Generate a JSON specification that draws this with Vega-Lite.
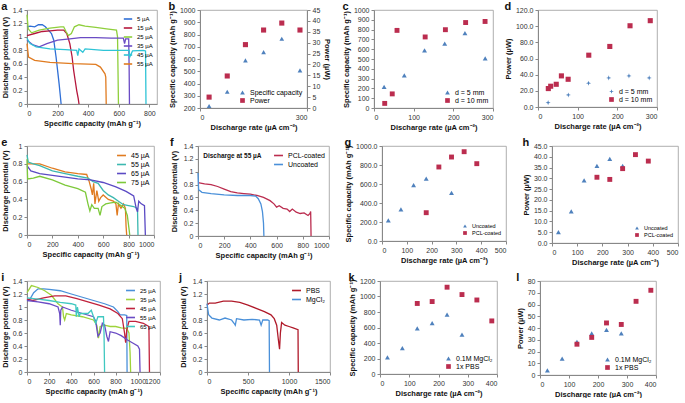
{
"$schema":"https://vega.github.io/schema/vega-lite/v6.json",
"padding":{"left":0,"top":0,"right":2,"bottom":0},
"background":"white",
"config":{
 "font":"Liberation Sans",
 "view":{"stroke":"#9a9a9a","strokeWidth":0.8},
 "axis":{"grid":false,"labelOverlap":false,"labelFont":"Liberation Sans","titleFont":"Liberation Sans","labelFontSize":7,"titleFontSize":7.5,"titleFontWeight":"bold","labelColor":"#333","titleColor":"#111","domainColor":"#888","tickColor":"#888","tickSize":3,"titlePadding":3,"labelPadding":2},
 "legend":{"labelFont":"Liberation Sans","labelFontSize":6.5,"symbolSize":22,"rowPadding":0,"padding":1,"offset":3,"labelLimit":200,"symbolStrokeWidth":1.6},
 "title":{"font":"Liberation Sans","fontSize":11,"fontWeight":"bold","anchor":"start","frame":"bounds","offset":-6,"color":"#111"}
},
"datasets":{
"a":[
{"s":"5 µA","x":0,"y":1.15},{"s":"5 µA","x":20,"y":1.16},{"s":"5 µA","x":50,"y":1.15},{"s":"5 µA","x":75,"y":1.18},{"s":"5 µA","x":100,"y":1.18},{"s":"5 µA","x":120,"y":1.15},{"s":"5 µA","x":140,"y":1.1},{"s":"5 µA","x":160,"y":1.05},{"s":"5 µA","x":175,"y":0.95},{"s":"5 µA","x":190,"y":0.7},{"s":"5 µA","x":200,"y":0.5},{"s":"5 µA","x":210,"y":0.3},{"s":"5 µA","x":218,"y":0.12},{"s":"5 µA","x":223,"y":0},
{"s":"15 µA","x":0,"y":1.02},{"s":"15 µA","x":50,"y":1.05},{"s":"15 µA","x":100,"y":1.08},{"s":"15 µA","x":150,"y":1.09},{"s":"15 µA","x":200,"y":1.1},{"s":"15 µA","x":240,"y":1.1},{"s":"15 µA","x":260,"y":1.05},{"s":"15 µA","x":280,"y":0.9},{"s":"15 µA","x":295,"y":0.7},{"s":"15 µA","x":305,"y":0.5},{"s":"15 µA","x":315,"y":0.35},{"s":"15 µA","x":325,"y":0.2},{"s":"15 µA","x":335,"y":0.08},{"s":"15 µA","x":340,"y":0},
{"s":"25 µA","x":0,"y":1.33},{"s":"25 µA","x":8,"y":1.12},{"s":"25 µA","x":30,"y":1.06},{"s":"25 µA","x":80,"y":1.1},{"s":"25 µA","x":150,"y":1.13},{"s":"25 µA","x":220,"y":1.15},{"s":"25 µA","x":240,"y":1.15},{"s":"25 µA","x":255,"y":1.08},{"s":"25 µA","x":270,"y":1.02},{"s":"25 µA","x":290,"y":1.05},{"s":"25 µA","x":310,"y":1.15},{"s":"25 µA","x":340,"y":1.18},{"s":"25 µA","x":380,"y":1.16},{"s":"25 µA","x":450,"y":1.14},{"s":"25 µA","x":520,"y":1.12},{"s":"25 µA","x":585,"y":1.1},{"s":"25 µA","x":592,"y":1.0},{"s":"25 µA","x":595,"y":0.5},{"s":"25 µA","x":598,"y":0},
{"s":"35 µA","x":0,"y":0.95},{"s":"35 µA","x":40,"y":0.88},{"s":"35 µA","x":80,"y":0.85},{"s":"35 µA","x":130,"y":0.9},{"s":"35 µA","x":200,"y":0.95},{"s":"35 µA","x":280,"y":0.97},{"s":"35 µA","x":350,"y":0.99},{"s":"35 µA","x":450,"y":0.99},{"s":"35 µA","x":550,"y":0.98},{"s":"35 µA","x":630,"y":0.98},{"s":"35 µA","x":638,"y":0.9},{"s":"35 µA","x":645,"y":0.97},{"s":"35 µA","x":665,"y":0.97},{"s":"35 µA","x":668,"y":0.5},{"s":"35 µA","x":670,"y":0},
{"s":"45 µA","x":0,"y":0.98},{"s":"45 µA","x":20,"y":0.9},{"s":"45 µA","x":60,"y":0.85},{"s":"45 µA","x":150,"y":0.82},{"s":"45 µA","x":250,"y":0.81},{"s":"45 µA","x":325,"y":0.8},{"s":"45 µA","x":332,"y":0.72},{"s":"45 µA","x":340,"y":0.82},{"s":"45 µA","x":365,"y":0.77},{"s":"45 µA","x":380,"y":0.82},{"s":"45 µA","x":500,"y":0.8},{"s":"45 µA","x":650,"y":0.8},{"s":"45 µA","x":668,"y":0.8},{"s":"45 µA","x":672,"y":0.7},{"s":"45 µA","x":690,"y":0.79},{"s":"45 µA","x":760,"y":0.8},{"s":"45 µA","x":775,"y":0.79},{"s":"45 µA","x":778,"y":0},
{"s":"55 µA","x":0,"y":0.9},{"s":"55 µA","x":10,"y":0.7},{"s":"55 µA","x":50,"y":0.65},{"s":"55 µA","x":150,"y":0.62},{"s":"55 µA","x":300,"y":0.6},{"s":"55 µA","x":450,"y":0.59},{"s":"55 µA","x":480,"y":0.55},{"s":"55 µA","x":510,"y":0.45},{"s":"55 µA","x":515,"y":0.4},{"s":"55 µA","x":518,"y":0}
],
"bcap":[{"s":"Specific capacity","x":25.5,"y":216},{"s":"Specific capacity","x":76.4,"y":333},{"s":"Specific capacity","x":127.4,"y":589},{"s":"Specific capacity","x":178.3,"y":656},{"s":"Specific capacity","x":229.3,"y":765},{"s":"Specific capacity","x":280.3,"y":507}],
"bpow":[{"s":"Power","x":25.5,"y":5},{"s":"Power","x":76.4,"y":14.7},{"s":"Power","x":127.4,"y":29.1},{"s":"Power","x":178.3,"y":35.8},{"s":"Power","x":229.3,"y":39},{"s":"Power","x":280.3,"y":35.8}],
"c":[{"s":"d = 5 mm","x":25.5,"y":216},{"s":"d = 5 mm","x":76.4,"y":333},{"s":"d = 5 mm","x":127.4,"y":589},{"s":"d = 5 mm","x":178.3,"y":656},{"s":"d = 5 mm","x":229.3,"y":765},{"s":"d = 5 mm","x":280.3,"y":507},
{"s":"d = 10 mm","x":27,"y":47},{"s":"d = 10 mm","x":46,"y":144},{"s":"d = 10 mm","x":58,"y":792},{"s":"d = 10 mm","x":129,"y":725},{"s":"d = 10 mm","x":180,"y":799},{"s":"d = 10 mm","x":231,"y":872},{"s":"d = 10 mm","x":280,"y":883}],
"d":[{"s":"d = 5 mm","x":25.5,"y":5.4},{"s":"d = 5 mm","x":76.4,"y":14.9},{"s":"d = 5 mm","x":127.4,"y":29.4},{"s":"d = 5 mm","x":178.3,"y":36},{"s":"d = 5 mm","x":229.3,"y":38.5},{"s":"d = 5 mm","x":280.3,"y":36},
{"s":"d = 10 mm","x":26,"y":22.8},{"s":"d = 10 mm","x":32,"y":25.7},{"s":"d = 10 mm","x":46,"y":28.1},{"s":"d = 10 mm","x":59,"y":38.5},{"s":"d = 10 mm","x":76,"y":34.3},{"s":"d = 10 mm","x":128,"y":64.1},{"s":"d = 10 mm","x":181,"y":74.9},{"s":"d = 10 mm","x":232,"y":100.5},{"s":"d = 10 mm","x":283,"y":106.8}],
"e":[
{"s":"45 µA","x":0,"y":0.8},{"s":"45 µA","x":50,"y":0.8},{"s":"45 µA","x":100,"y":0.8},{"s":"45 µA","x":200,"y":0.75},{"s":"45 µA","x":300,"y":0.71},{"s":"45 µA","x":400,"y":0.69},{"s":"45 µA","x":470,"y":0.68},{"s":"45 µA","x":490,"y":0.6},{"s":"45 µA","x":505,"y":0.52},{"s":"45 µA","x":515,"y":0.45},{"s":"45 µA","x":525,"y":0.58},{"s":"45 µA","x":535,"y":0.35},{"s":"45 µA","x":550,"y":0.5},{"s":"45 µA","x":565,"y":0.38},{"s":"45 µA","x":580,"y":0.42},{"s":"45 µA","x":600,"y":0.45},{"s":"45 µA","x":640,"y":0.4},{"s":"45 µA","x":680,"y":0.38},{"s":"45 µA","x":700,"y":0.35},{"s":"45 µA","x":710,"y":0.22},{"s":"45 µA","x":720,"y":0.35},{"s":"45 µA","x":740,"y":0.3},{"s":"45 µA","x":760,"y":0.35},{"s":"45 µA","x":775,"y":0.3},{"s":"45 µA","x":780,"y":0.1},{"s":"45 µA","x":785,"y":0},
{"s":"55 µA","x":0,"y":0.9},{"s":"55 µA","x":10,"y":0.82},{"s":"55 µA","x":50,"y":0.8},{"s":"55 µA","x":100,"y":0.78},{"s":"55 µA","x":200,"y":0.72},{"s":"55 µA","x":300,"y":0.69},{"s":"55 µA","x":400,"y":0.66},{"s":"55 µA","x":480,"y":0.64},{"s":"55 µA","x":520,"y":0.6},{"s":"55 µA","x":560,"y":0.58},{"s":"55 µA","x":600,"y":0.5},{"s":"55 µA","x":640,"y":0.45},{"s":"55 µA","x":680,"y":0.42},{"s":"55 µA","x":720,"y":0.38},{"s":"55 µA","x":760,"y":0.34},{"s":"55 µA","x":800,"y":0.33},{"s":"55 µA","x":840,"y":0.32},{"s":"55 µA","x":870,"y":0.3},{"s":"55 µA","x":874,"y":0},
{"s":"65 µA","x":0,"y":0.78},{"s":"65 µA","x":30,"y":0.72},{"s":"65 µA","x":100,"y":0.69},{"s":"65 µA","x":200,"y":0.67},{"s":"65 µA","x":300,"y":0.65},{"s":"65 µA","x":400,"y":0.63},{"s":"65 µA","x":500,"y":0.62},{"s":"65 µA","x":600,"y":0.59},{"s":"65 µA","x":700,"y":0.54},{"s":"65 µA","x":780,"y":0.49},{"s":"65 µA","x":840,"y":0.44},{"s":"65 µA","x":860,"y":0.3},{"s":"65 µA","x":870,"y":0.26},{"s":"65 µA","x":880,"y":0.38},{"s":"65 µA","x":900,"y":0.35},{"s":"65 µA","x":925,"y":0.33},{"s":"65 µA","x":932,"y":0},
{"s":"75 µA","x":0,"y":0.85},{"s":"75 µA","x":5,"y":0.63},{"s":"75 µA","x":50,"y":0.64},{"s":"75 µA","x":100,"y":0.66},{"s":"75 µA","x":200,"y":0.62},{"s":"75 µA","x":300,"y":0.56},{"s":"75 µA","x":400,"y":0.52},{"s":"75 µA","x":460,"y":0.48},{"s":"75 µA","x":480,"y":0.35},{"s":"75 µA","x":495,"y":0.27},{"s":"75 µA","x":510,"y":0.34},{"s":"75 µA","x":530,"y":0.3},{"s":"75 µA","x":560,"y":0.3},{"s":"75 µA","x":575,"y":0.22},{"s":"75 µA","x":590,"y":0.32},{"s":"75 µA","x":620,"y":0.35},{"s":"75 µA","x":660,"y":0.36},{"s":"75 µA","x":700,"y":0.37},{"s":"75 µA","x":740,"y":0.33},{"s":"75 µA","x":770,"y":0.3},{"s":"75 µA","x":790,"y":0.22},{"s":"75 µA","x":805,"y":0.05},{"s":"75 µA","x":809,"y":0}
],
"f":[
{"s":"PCL-coated","fx":0,"fy":0.83},{"s":"PCL-coated","fx":50,"fy":0.81},{"s":"PCL-coated","fx":100,"fy":0.8},{"s":"PCL-coated","fx":150,"fy":0.77},{"s":"PCL-coated","fx":200,"fy":0.73},{"s":"PCL-coated","fx":250,"fy":0.69},{"s":"PCL-coated","fx":300,"fy":0.67},{"s":"PCL-coated","fx":350,"fy":0.66},{"s":"PCL-coated","fx":400,"fy":0.65},{"s":"PCL-coated","fx":450,"fy":0.63},{"s":"PCL-coated","fx":500,"fy":0.6},{"s":"PCL-coated","fx":550,"fy":0.55},{"s":"PCL-coated","fx":580,"fy":0.5},{"s":"PCL-coated","fx":600,"fy":0.45},{"s":"PCL-coated","fx":620,"fy":0.47},{"s":"PCL-coated","fx":650,"fy":0.43},{"s":"PCL-coated","fx":680,"fy":0.42},{"s":"PCL-coated","fx":700,"fy":0.38},{"s":"PCL-coated","fx":720,"fy":0.42},{"s":"PCL-coated","fx":750,"fy":0.37},{"s":"PCL-coated","fx":780,"fy":0.35},{"s":"PCL-coated","fx":810,"fy":0.36},{"s":"PCL-coated","fx":840,"fy":0.32},{"s":"PCL-coated","fx":855,"fy":0.35},{"s":"PCL-coated","fx":860,"fy":0.38},{"s":"PCL-coated","fx":863,"fy":0},
{"s":"Uncoated","fx":0,"fy":0.98},{"s":"Uncoated","fx":5,"fy":0.72},{"s":"Uncoated","fx":30,"fy":0.68},{"s":"Uncoated","fx":100,"fy":0.66},{"s":"Uncoated","fx":200,"fy":0.64},{"s":"Uncoated","fx":300,"fy":0.63},{"s":"Uncoated","fx":400,"fy":0.63},{"s":"Uncoated","fx":440,"fy":0.62},{"s":"Uncoated","fx":460,"fy":0.58},{"s":"Uncoated","fx":480,"fy":0.5},{"s":"Uncoated","fx":492,"fy":0.38},{"s":"Uncoated","fx":500,"fy":0.2},{"s":"Uncoated","fx":503,"fy":0}
],
"fnote":[{"fx":40,"fy":1.24,"t":"Discharge at 55 µA"}],
"g":[{"s":"Uncoated","x":25.5,"y":216},{"s":"Uncoated","x":76.4,"y":333},{"s":"Uncoated","x":127.4,"y":589},{"s":"Uncoated","x":178.3,"y":656},{"s":"Uncoated","x":280.3,"y":507},
{"s":"PCL-coated","x":178.3,"y":298},{"s":"PCL-coated","x":229.3,"y":779},{"s":"PCL-coated","x":280.3,"y":884},{"s":"PCL-coated","x":331.2,"y":940},{"s":"PCL-coated","x":382.2,"y":814}],
"h":[{"s":"Uncoated","x":25.5,"y":5},{"s":"Uncoated","x":76.4,"y":14.7},{"s":"Uncoated","x":127.4,"y":29.1},{"s":"Uncoated","x":178.3,"y":35.8},{"s":"Uncoated","x":229.3,"y":39},{"s":"Uncoated","x":280.3,"y":35.8},
{"s":"PCL-coated","x":178.3,"y":30.5},{"s":"PCL-coated","x":229.3,"y":29.5},{"s":"PCL-coated","x":280.3,"y":34.5},{"s":"PCL-coated","x":331.2,"y":41},{"s":"PCL-coated","x":382.2,"y":38}],
"i":[
{"s":"25 µA","x":0,"y":1.1},{"s":"25 µA","x":30,"y":1.13},{"s":"25 µA","x":60,"y":1.22},{"s":"25 µA","x":100,"y":1.28},{"s":"25 µA","x":150,"y":1.28},{"s":"25 µA","x":200,"y":1.27},{"s":"25 µA","x":300,"y":1.25},{"s":"25 µA","x":400,"y":1.2},{"s":"25 µA","x":500,"y":1.15},{"s":"25 µA","x":600,"y":1.1},{"s":"25 µA","x":700,"y":1.05},{"s":"25 µA","x":780,"y":1.0},{"s":"25 µA","x":820,"y":0.93},{"s":"25 µA","x":840,"y":0.88},{"s":"25 µA","x":880,"y":0.88},{"s":"25 µA","x":900,"y":0.87},{"s":"25 µA","x":903,"y":0},
{"s":"35 µA","x":0,"y":1.22},{"s":"35 µA","x":40,"y":1.33},{"s":"35 µA","x":100,"y":1.3},{"s":"35 µA","x":160,"y":1.25},{"s":"35 µA","x":220,"y":1.18},{"s":"35 µA","x":280,"y":1.05},{"s":"35 µA","x":320,"y":1.0},{"s":"35 µA","x":330,"y":0.85},{"s":"35 µA","x":340,"y":0.8},{"s":"35 µA","x":355,"y":0.9},{"s":"35 µA","x":400,"y":0.88},{"s":"35 µA","x":500,"y":0.85},{"s":"35 µA","x":600,"y":0.8},{"s":"35 µA","x":630,"y":0.72},{"s":"35 µA","x":645,"y":0.52},{"s":"35 µA","x":660,"y":0.7},{"s":"35 µA","x":700,"y":0.72},{"s":"35 µA","x":750,"y":0.7},{"s":"35 µA","x":800,"y":0.7},{"s":"35 µA","x":850,"y":0.68},{"s":"35 µA","x":900,"y":0.67},{"s":"35 µA","x":920,"y":0.6},{"s":"35 µA","x":930,"y":0.3},{"s":"35 µA","x":935,"y":0},
{"s":"45 µA","x":0,"y":1.12},{"s":"45 µA","x":50,"y":1.1},{"s":"45 µA","x":150,"y":1.14},{"s":"45 µA","x":250,"y":1.17},{"s":"45 µA","x":350,"y":1.17},{"s":"45 µA","x":450,"y":1.13},{"s":"45 µA","x":550,"y":1.08},{"s":"45 µA","x":650,"y":1.03},{"s":"45 µA","x":750,"y":0.97},{"s":"45 µA","x":820,"y":0.9},{"s":"45 µA","x":860,"y":0.82},{"s":"45 µA","x":880,"y":0.6},{"s":"45 µA","x":890,"y":0.45},{"s":"45 µA","x":900,"y":0.65},{"s":"45 µA","x":920,"y":0.78},{"s":"45 µA","x":980,"y":0.78},{"s":"45 µA","x":1050,"y":0.75},{"s":"45 µA","x":1100,"y":0.7},{"s":"45 µA","x":1105,"y":0},
{"s":"55 µA","x":0,"y":1.1},{"s":"55 µA","x":100,"y":1.08},{"s":"55 µA","x":200,"y":1.05},{"s":"55 µA","x":280,"y":1.0},{"s":"55 µA","x":295,"y":0.9},{"s":"55 µA","x":300,"y":0.72},{"s":"55 µA","x":305,"y":0.95},{"s":"55 µA","x":320,"y":1.0},{"s":"55 µA","x":400,"y":0.95},{"s":"55 µA","x":500,"y":0.9},{"s":"55 µA","x":600,"y":0.85},{"s":"55 µA","x":620,"y":0.78},{"s":"55 µA","x":640,"y":0.55},{"s":"55 µA","x":660,"y":0.6},{"s":"55 µA","x":680,"y":0.75},{"s":"55 µA","x":700,"y":0.72},{"s":"55 µA","x":720,"y":0.55},{"s":"55 µA","x":735,"y":0.47},{"s":"55 µA","x":750,"y":0.62},{"s":"55 µA","x":800,"y":0.6},{"s":"55 µA","x":850,"y":0.56},{"s":"55 µA","x":900,"y":0.5},{"s":"55 µA","x":950,"y":0.45},{"s":"55 µA","x":1000,"y":0.4},{"s":"55 µA","x":1015,"y":0.35},{"s":"55 µA","x":1020,"y":0},
{"s":"65 µA","x":0,"y":1.14},{"s":"65 µA","x":100,"y":1.12},{"s":"65 µA","x":200,"y":1.1},{"s":"65 µA","x":300,"y":1.07},{"s":"65 µA","x":400,"y":1.05},{"s":"65 µA","x":440,"y":1.03},{"s":"65 µA","x":445,"y":0.85},{"s":"65 µA","x":455,"y":1.0},{"s":"65 µA","x":470,"y":0.85},{"s":"65 µA","x":480,"y":0.9},{"s":"65 µA","x":550,"y":0.9},{"s":"65 µA","x":580,"y":0.95},{"s":"65 µA","x":600,"y":0.85},{"s":"65 µA","x":620,"y":0.75},{"s":"65 µA","x":640,"y":0.85},{"s":"65 µA","x":690,"y":0.85},{"s":"65 µA","x":695,"y":0.6},{"s":"65 µA","x":700,"y":0}
],
"j":[
{"s":"PBS","jx":0,"jy":1.03},{"s":"PBS","jx":30,"jy":1.06},{"s":"PBS","jx":100,"jy":1.06},{"s":"PBS","jx":200,"jy":1.09},{"s":"PBS","jx":300,"jy":1.09},{"s":"PBS","jx":400,"jy":1.07},{"s":"PBS","jx":500,"jy":1.03},{"s":"PBS","jx":600,"jy":0.98},{"s":"PBS","jx":700,"jy":0.93},{"s":"PBS","jx":780,"jy":0.88},{"s":"PBS","jx":820,"jy":0.82},{"s":"PBS","jx":850,"jy":0.72},{"s":"PBS","jx":870,"jy":0.5},{"s":"PBS","jx":885,"jy":0.35},{"s":"PBS","jx":895,"jy":0.6},{"s":"PBS","jx":910,"jy":0.76},{"s":"PBS","jx":950,"jy":0.72},{"s":"PBS","jx":1000,"jy":0.7},{"s":"PBS","jx":1050,"jy":0.68},{"s":"PBS","jx":1110,"jy":0.65},{"s":"PBS","jx":1113,"jy":0},
{"s":"MgCl₂","jx":0,"jy":1.05},{"s":"MgCl₂","jx":20,"jy":0.88},{"s":"MgCl₂","jx":60,"jy":0.83},{"s":"MgCl₂","jx":150,"jy":0.8},{"s":"MgCl₂","jx":220,"jy":0.83},{"s":"MgCl₂","jx":300,"jy":0.8},{"s":"MgCl₂","jx":330,"jy":0.75},{"s":"MgCl₂","jx":345,"jy":0.72},{"s":"MgCl₂","jx":360,"jy":0.82},{"s":"MgCl₂","jx":450,"jy":0.8},{"s":"MgCl₂","jx":550,"jy":0.81},{"s":"MgCl₂","jx":640,"jy":0.8},{"s":"MgCl₂","jx":660,"jy":0.72},{"s":"MgCl₂","jx":680,"jy":0.8},{"s":"MgCl₂","jx":740,"jy":0.8},{"s":"MgCl₂","jx":758,"jy":0.79},{"s":"MgCl₂","jx":762,"jy":0}
],
"k":[{"s":"0.1M MgCl₂","x":25.5,"y":216},{"s":"0.1M MgCl₂","x":76.4,"y":333},{"s":"0.1M MgCl₂","x":127.4,"y":589},{"s":"0.1M MgCl₂","x":178.3,"y":656},{"s":"0.1M MgCl₂","x":229.3,"y":765},{"s":"0.1M MgCl₂","x":280.3,"y":507},
{"s":"1x PBS","x":127.4,"y":910},{"s":"1x PBS","x":178.3,"y":935},{"s":"1x PBS","x":229.3,"y":1120},{"s":"1x PBS","x":280.3,"y":1025},{"s":"1x PBS","x":331.2,"y":955},{"s":"1x PBS","x":382.2,"y":685}],
"l":[{"s":"0.1M MgCl₂","x":25.5,"y":4},{"s":"0.1M MgCl₂","x":76.4,"y":14},{"s":"0.1M MgCl₂","x":127.4,"y":28.3},{"s":"0.1M MgCl₂","x":178.3,"y":35.4},{"s":"0.1M MgCl₂","x":229.3,"y":38.5},{"s":"0.1M MgCl₂","x":280.3,"y":35.4},
{"s":"1x PBS","x":127.4,"y":26.2},{"s":"1x PBS","x":178.3,"y":32},{"s":"1x PBS","x":229.3,"y":44.3},{"s":"1x PBS","x":280.3,"y":43},{"s":"1x PBS","x":331.2,"y":62.7},{"s":"1x PBS","x":382.2,"y":72.1}]
},
"vconcat":[
{"hconcat":[
 {"width":130,"height":94,"title":{"text":"a","frame":"bounds","anchor":"start","offset":-6},"data":{"name":"a"},"mark":{"type":"line","strokeWidth":1.3},
  "encoding":{
   "x":{"field":"x","type":"quantitative","scale":{"domain":[0,850],"nice":false},"axis":{"values":[0,200,400,600,800],"title":"Specific capacity (mAh g⁻¹)"}},
   "y":{"field":"y","type":"quantitative","scale":{"domain":[0,1.4],"nice":false},"axis":{"values":[0,0.2,0.4,0.6,0.8,1,1.2,1.4],"format":"~g","title":"Discharge potential (V)"}},
   "color":{"field":"s","type":"nominal","scale":{"domain":["5 µA","15 µA","25 µA","35 µA","45 µA","55 µA"],"range":["#2f6fd6","#b5173c","#8fcf3c","#6a4bc4","#2ec4d6","#e07b20"]},"legend":{"title":null,"orient":"top-right","symbolType":"stroke","symbolSize":70,"labelFontSize":6}}}},
 {"width":107,"height":98,"title":{"text":"b","frame":"bounds","anchor":"start","offset":-6},
  "layer":[
   {"data":{"name":"bcap"},"mark":{"type":"point","filled":true,"size":22,"opacity":1},
    "encoding":{
     "x":{"field":"x","type":"quantitative","scale":{"domain":[0,300],"nice":false},"axis":{"values":[0,100,200,300],"title":"Discharge rate (µA cm⁻²)"}},
     "y":{"field":"y","type":"quantitative","scale":{"domain":[200,1000],"nice":false,"zero":false},"axis":{"values":[200,300,400,500,600,700,800,900,1000],"format":"d","title":"Specific capacity (mAh g⁻¹)"}},
     "color":{"field":"s","type":"nominal","scale":{"domain":["Specific capacity","Power"],"range":["#4f81bd","#bb2d4f"]},"legend":{"title":null,"orient":"bottom-right","labelFontSize":7}},
     "shape":{"field":"s","type":"nominal","scale":{"domain":["Specific capacity","Power"],"range":["triangle-up","square"]},"legend":{"title":null,"orient":"bottom-right","labelFontSize":7}}}},
   {"data":{"name":"bpow"},"mark":{"type":"point","filled":true,"size":26,"opacity":1},
    "encoding":{
     "x":{"field":"x","type":"quantitative","scale":{"domain":[0,300],"nice":false}},
     "y":{"field":"y","type":"quantitative","scale":{"domain":[0,45],"nice":false},"axis":{"orient":"right","values":[0,5,10,15,20,25,30,35,40,45],"title":"Power (µW)"}},
     "color":{"field":"s","type":"nominal","scale":{"domain":["Specific capacity","Power"],"range":["#4f81bd","#bb2d4f"]},"legend":{"title":null,"orient":"bottom-right","labelFontSize":7}},
     "shape":{"field":"s","type":"nominal","scale":{"domain":["Specific capacity","Power"],"range":["triangle-up","square"]},"legend":{"title":null,"orient":"bottom-right","labelFontSize":7}}}}
  ],
  "resolve":{"scale":{"y":"independent"}}},
 {"width":119,"height":98,"title":{"text":"c","frame":"bounds","anchor":"start","offset":-6},"data":{"name":"c"},"mark":{"type":"point","filled":true,"size":24,"opacity":1},
  "encoding":{
   "x":{"field":"x","type":"quantitative","scale":{"domain":[0,300],"nice":false},"axis":{"values":[0,100,200,300],"title":"Discharge rate (µA cm⁻²)"}},
   "y":{"field":"y","type":"quantitative","scale":{"domain":[0,1000],"nice":false},"axis":{"values":[0,100,200,300,400,500,600,700,800,900,1000],"format":"d","title":"Specific capacity (mAh g⁻¹)"}},
   "color":{"field":"s","type":"nominal","scale":{"domain":["d = 5 mm","d = 10 mm"],"range":["#4f81bd","#bb2d4f"]},"legend":{"title":null,"orient":"bottom-right","labelFontSize":7}},
   "shape":{"field":"s","type":"nominal","scale":{"domain":["d = 5 mm","d = 10 mm"],"range":["triangle-up","square"]},"legend":{"title":null,"orient":"bottom-right","labelFontSize":7}}}},
 {"width":119,"height":97,"title":{"text":"d","frame":"bounds","anchor":"start","offset":-6},"data":{"name":"d"},"mark":{"type":"point","filled":true,"size":26,"opacity":1},
  "encoding":{
   "x":{"field":"x","type":"quantitative","scale":{"domain":[0,300],"nice":false},"axis":{"values":[0,100,200,300],"title":"Discharge rate (µA cm⁻²)"}},
   "y":{"field":"y","type":"quantitative","scale":{"domain":[0,120],"nice":false},"axis":{"values":[0,20,40,60,80,100,120],"format":".1f","title":"Power (µW)"}},
   "color":{"field":"s","type":"nominal","scale":{"domain":["d = 5 mm","d = 10 mm"],"range":["#4f81bd","#bb2d4f"]},"legend":{"title":null,"orient":"bottom-right","labelFontSize":7}},
   "shape":{"field":"s","type":"nominal","scale":{"domain":["d = 5 mm","d = 10 mm"],"range":["M0,-1L0.25,-0.25L1,0L0.25,0.25L0,1L-0.25,0.25L-1,0L-0.25,-0.25Z","square"]},"legend":{"title":null,"orient":"bottom-right","labelFontSize":7}}}}
],"spacing":10,"resolve":{"scale":{"x":"independent","y":"independent","color":"independent","shape":"independent"},"axis":{"x":"independent","y":"independent"},"legend":{"color":"independent","shape":"independent"}}},
{"hconcat":[
 {"width":127,"height":89,"title":{"text":"e","frame":"bounds","anchor":"start","offset":-6},"data":{"name":"e"},"mark":{"type":"line","strokeWidth":1.3},
  "encoding":{
   "x":{"field":"x","type":"quantitative","scale":{"domain":[0,1000],"nice":false},"axis":{"values":[0,200,400,600,800,1000],"format":"d","title":"Specific capacity (mAh g⁻¹)"}},
   "y":{"field":"y","type":"quantitative","scale":{"domain":[0,1],"nice":false},"axis":{"values":[0,0.2,0.4,0.6,0.8,1],"format":"~g","title":"Discharge potential (V)"}},
   "color":{"field":"s","type":"nominal","scale":{"domain":["45 µA","55 µA","65 µA","75 µA"],"range":["#e07b20","#3cb8b0","#5b4ac4","#7dc93a"]},"legend":{"title":null,"orient":"top-right","symbolType":"stroke","symbolSize":80,"labelFontSize":7}}}},
 {"width":131,"height":90,"title":{"text":"f","frame":"bounds","anchor":"start","offset":-6},
  "layer":[
   {"data":{"name":"f"},"mark":{"type":"line","strokeWidth":1.3},
    "encoding":{
     "x":{"field":"fx","type":"quantitative","scale":{"domain":[0,1000],"nice":false},"axis":{"values":[0,200,400,600,800,1000],"format":"d","title":"Specific capacity (mAh g⁻¹)"}},
     "y":{"field":"fy","type":"quantitative","scale":{"domain":[0,1.4],"nice":false},"axis":{"values":[0,0.2,0.4,0.6,0.8,1,1.2,1.4],"format":"~g","title":"Discharge potential (V)","titleX":-20}},
     "color":{"field":"s","type":"nominal","scale":{"domain":["PCL-coated","Uncoated"],"range":["#bb2d4f","#4a90d9"]},"legend":{"title":null,"orient":"top-right","symbolType":"stroke","symbolSize":80,"labelFontSize":7}}}},
   {"data":{"name":"fnote"},"mark":{"type":"text","fontWeight":"bold","fontSize":6.5,"align":"left","baseline":"middle","font":"Liberation Sans","color":"#111"},
    "encoding":{
     "x":{"field":"fx","type":"quantitative","scale":{"domain":[0,1000],"nice":false},"axis":{"values":[0,200,400,600,800,1000],"format":"d","title":"Specific capacity (mAh g⁻¹)"}},
     "y":{"field":"fy","type":"quantitative","scale":{"domain":[0,1.4],"nice":false},"axis":{"values":[0,0.2,0.4,0.6,0.8,1,1.2,1.4],"format":"~g","title":"Discharge potential (V)","titleX":-20}},
     "text":{"field":"t","type":"nominal"}}}
  ]},
 {"width":124,"height":95,"title":{"text":"g","frame":"bounds","anchor":"start","offset":-6},"data":{"name":"g"},"mark":{"type":"point","filled":true,"size":24,"opacity":1},
  "encoding":{
   "x":{"field":"x","type":"quantitative","scale":{"domain":[0,500],"nice":false},"axis":{"values":[0,100,200,300,400,500],"title":"Discharge rate (µA cm⁻²)"}},
   "y":{"field":"y","type":"quantitative","scale":{"domain":[0,1000],"nice":false},"axis":{"values":[0,200,400,600,800,1000],"format":".1f","title":"Specific capacity (mAh g⁻¹)"}},
   "color":{"field":"s","type":"nominal","scale":{"domain":["Uncoated","PCL-coated"],"range":["#4f81bd","#bb2d4f"]},"legend":{"title":null,"orient":"bottom-right","labelFontSize":5.5,"symbolSize":14}},
   "shape":{"field":"s","type":"nominal","scale":{"domain":["Uncoated","PCL-coated"],"range":["triangle-up","square"]},"legend":{"title":null,"orient":"bottom-right","labelFontSize":5.5,"symbolSize":14}}}},
 {"width":126,"height":97,"title":{"text":"h","frame":"bounds","anchor":"start","offset":-6},"data":{"name":"h"},"mark":{"type":"point","filled":true,"size":24,"opacity":1},
  "encoding":{
   "x":{"field":"x","type":"quantitative","scale":{"domain":[0,500],"nice":false},"axis":{"values":[0,100,200,300,400,500],"title":"Discharge rate (µA cm⁻²)"}},
   "y":{"field":"y","type":"quantitative","scale":{"domain":[0,45],"nice":false},"axis":{"values":[0,5,10,15,20,25,30,35,40,45],"format":".1f","title":"Power (µW)"}},
   "color":{"field":"s","type":"nominal","scale":{"domain":["Uncoated","PCL-coated"],"range":["#4f81bd","#bb2d4f"]},"legend":{"title":null,"orient":"bottom-right","labelFontSize":5.5,"symbolSize":14}},
   "shape":{"field":"s","type":"nominal","scale":{"domain":["Uncoated","PCL-coated"],"range":["triangle-up","square"]},"legend":{"title":null,"orient":"bottom-right","labelFontSize":5.5,"symbolSize":14}}}}
],"spacing":14,"resolve":{"scale":{"x":"independent","y":"independent","color":"independent","shape":"independent"},"axis":{"x":"independent","y":"independent"},"legend":{"color":"independent","shape":"independent"}}},
{"hconcat":[
 {"width":133,"height":91,"title":{"text":"i","frame":"bounds","anchor":"start","offset":-6},"data":{"name":"i"},"mark":{"type":"line","strokeWidth":1.3},
  "encoding":{
   "x":{"field":"x","type":"quantitative","scale":{"domain":[0,1200],"nice":false},"axis":{"values":[0,200,400,600,800,1000,1200],"format":"d","title":"Specific capacity (mAh g⁻¹)"}},
   "y":{"field":"y","type":"quantitative","scale":{"domain":[0,1.4],"nice":false},"axis":{"values":[0,0.2,0.4,0.6,0.8,1,1.2,1.4],"format":"~g","title":"Discharge potential (V)"}},
   "color":{"field":"s","type":"nominal","scale":{"domain":["25 µA","35 µA","45 µA","55 µA","65 µA"],"range":["#4a90d9","#9ed33a","#c0223c","#6a4bc4","#40c8c0"]},"legend":{"title":null,"orient":"top-right","symbolType":"stroke","symbolSize":80,"labelFontSize":6}}}},
 {"width":123,"height":91,"title":{"text":"j","frame":"bounds","anchor":"start","offset":-6},"data":{"name":"j"},"mark":{"type":"line","strokeWidth":1.3},
  "encoding":{
   "x":{"field":"jx","type":"quantitative","scale":{"domain":[0,1500],"nice":false},"axis":{"values":[0,500,1000,1500],"format":"d","title":"Specific capacity (mAh g⁻¹)"}},
   "y":{"field":"jy","type":"quantitative","scale":{"domain":[0,1.4],"nice":false},"axis":{"values":[0,0.2,0.4,0.6,0.8,1,1.2,1.4],"format":"~g","title":"Discharge potential (V)","titleX":-20}},
   "color":{"field":"s","type":"nominal","scale":{"domain":["PBS","MgCl₂"],"range":["#b01a2a","#4a90d9"]},"legend":{"title":null,"orient":"top-right","symbolType":"stroke","symbolSize":80,"labelFontSize":7}}}},
 {"width":117,"height":93,"title":{"text":"k","frame":"bounds","anchor":"start","offset":-6},"data":{"name":"k"},"mark":{"type":"point","filled":true,"size":24,"opacity":1},
  "encoding":{
   "x":{"field":"x","type":"quantitative","scale":{"domain":[0,400],"nice":false},"axis":{"values":[0,100,200,300,400],"title":"Discharge rate (µA cm⁻²)"}},
   "y":{"field":"y","type":"quantitative","scale":{"domain":[0,1200],"nice":false},"axis":{"values":[0,200,400,600,800,1000,1200],"format":"d","title":"Specific capacity (mAh g⁻¹)"}},
   "color":{"field":"s","type":"nominal","scale":{"domain":["0.1M MgCl₂","1x PBS"],"range":["#4f81bd","#bb2d4f"]},"legend":{"title":null,"orient":"bottom-right","labelFontSize":7}},
   "shape":{"field":"s","type":"nominal","scale":{"domain":["0.1M MgCl₂","1x PBS"],"range":["triangle-up","square"]},"legend":{"title":null,"orient":"bottom-right","labelFontSize":7}}}},
 {"width":116,"height":94,"title":{"text":"l","frame":"bounds","anchor":"start","offset":-6},"data":{"name":"l"},"mark":{"type":"point","filled":true,"size":24,"opacity":1},
  "encoding":{
   "x":{"field":"x","type":"quantitative","scale":{"domain":[0,400],"nice":false},"axis":{"values":[0,100,200,300,400],"title":"Discharge rate (µA cm⁻²)"}},
   "y":{"field":"y","type":"quantitative","scale":{"domain":[0,80],"nice":false},"axis":{"values":[0,10,20,30,40,50,60,70,80],"title":"Power (µW)"}},
   "color":{"field":"s","type":"nominal","scale":{"domain":["0.1M MgCl₂","1x PBS"],"range":["#4f81bd","#bb2d4f"]},"legend":{"title":null,"orient":"bottom-right","labelFontSize":7}},
   "shape":{"field":"s","type":"nominal","scale":{"domain":["0.1M MgCl₂","1x PBS"],"range":["triangle-up","square"]},"legend":{"title":null,"orient":"bottom-right","labelFontSize":7}}}}
],"spacing":17,"resolve":{"scale":{"x":"independent","y":"independent","color":"independent","shape":"independent"},"axis":{"x":"independent","y":"independent"},"legend":{"color":"independent","shape":"independent"}}}
],
"spacing":5,
"resolve":{"scale":{"x":"independent","y":"independent","color":"independent","shape":"independent"},"axis":{"x":"independent","y":"independent"},"legend":{"color":"independent","shape":"independent"}}
}
